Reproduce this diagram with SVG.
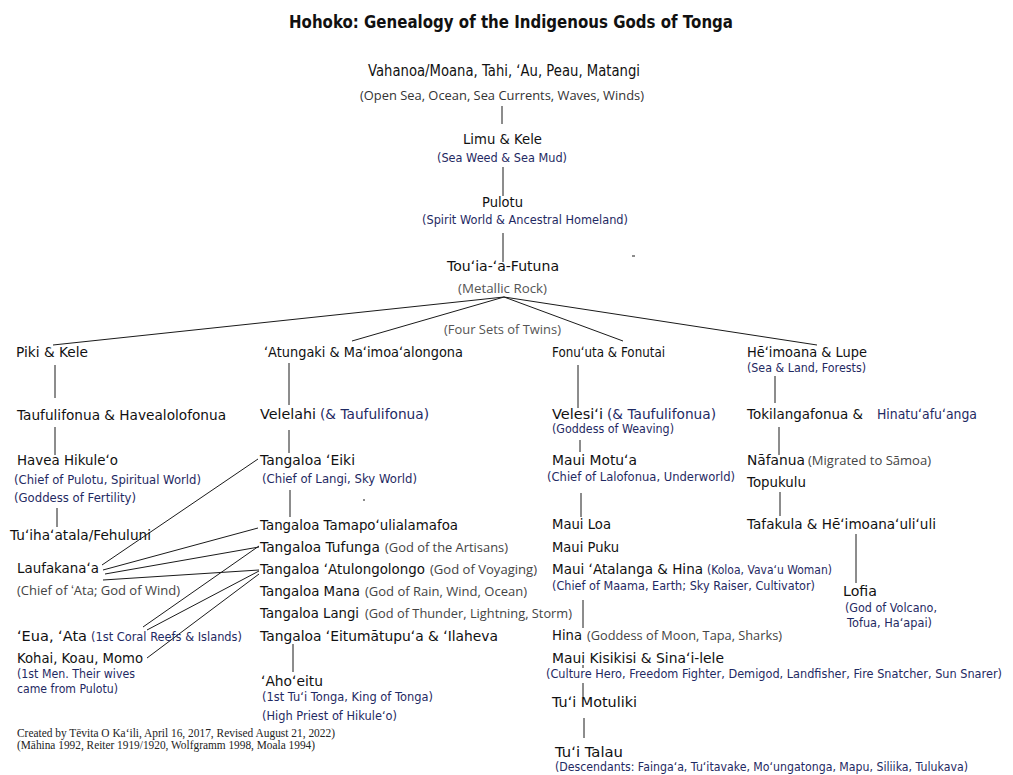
<svg xmlns="http://www.w3.org/2000/svg" width="1013" height="775" viewBox="0 0 1013 775">
<style>
.n{font-family:"DejaVu Sans","Noto Sans",sans-serif;font-size:14px;fill:#111}
.nv{font-family:"DejaVu Sans","Noto Sans",sans-serif;font-size:14px;fill:#1f2a63}
.s{font-family:"DejaVu Sans","Noto Sans",sans-serif;font-size:11.8px;fill:#1f2a63}
.c{font-family:"Open Sans","Liberation Sans",sans-serif;font-size:12.5px;fill:#444}
.f{font-family:"Liberation Serif","Times New Roman",serif;font-size:11.5px;fill:#222}
.title{font-family:"DejaVu Sans","Noto Sans",sans-serif;font-size:18px;font-weight:bold;fill:#111}
.ln{stroke:#1a1a1a;stroke-width:1;fill:none}
</style>
<rect width="1013" height="775" fill="#fff"/>
<g id="title"><text class="title" x="289" y="28" textLength="444" lengthAdjust="spacingAndGlyphs">Hohoko: Genealogy of the Indigenous Gods of Tonga</text></g>

<g id="connectors" class="ln">
<path d="M502,106V124M503,167V196M503,233V262"/>
<path d="M504,297L53,345M504,297L352,341M504,297L623,341M504,297L817,345"/>
<path d="M55,365V398M55,427V455M57,508V527"/>
<path d="M289,363V405M289,430V453M290,490V517M293,644V672"/>
<path d="M578,365V408M580,440V452M581,493V517M583,600V628M583,665V668M583,683V697M584,718V738"/>
<path d="M775,376V403M779,427V455M780,492V516M856,534V583"/>
<path d="M102,565L258,459M103,570L258,528M105,574L259,547M103,580L259,570M143,627L259,546M147,630L259,571M147,658L259,574"/>
<path d="M632,256H635M363,500H365"/>
<text class="c" x="444" y="334" textLength="117" lengthAdjust="spacingAndGlyphs" style="fill:#555;stroke:none">(Four Sets of Twins)</text>
</g>

<g id="vahanoa">
<text class="n" x="368" y="76" style="font-size:15.5px" textLength="272" lengthAdjust="spacingAndGlyphs">Vahanoa/Moana, Tahi, ʻAu, Peau, Matangi</text>
<text class="c" x="360" y="100" style="fill:#333" textLength="284" lengthAdjust="spacingAndGlyphs">(Open Sea, Ocean, Sea Currents, Waves, Winds)</text>
</g>
<g id="limu">
<text class="n" x="463" y="144" textLength="79" lengthAdjust="spacingAndGlyphs">Limu &amp; Kele</text>
<text class="s" x="437" y="162" textLength="130" lengthAdjust="spacingAndGlyphs">(Sea Weed &amp; Sea Mud)</text>
</g>
<g id="pulotu">
<text class="n" x="482" y="207" textLength="41" lengthAdjust="spacingAndGlyphs">Pulotu</text>
<text class="s" x="422" y="224" textLength="206" lengthAdjust="spacingAndGlyphs">(Spirit World &amp; Ancestral Homeland)</text>
</g>
<g id="touia">
<text class="n" x="447" y="271" textLength="112" lengthAdjust="spacingAndGlyphs">Touʻia-ʻa-Futuna</text>
<text class="c" x="458" y="293" style="fill:#555" textLength="89" lengthAdjust="spacingAndGlyphs">(Metallic Rock)</text>
</g>

<g id="piki"><text class="n" x="16" y="357" textLength="72" lengthAdjust="spacingAndGlyphs">Piki &amp; Kele</text></g>
<g id="atungaki"><text class="n" x="264" y="357" textLength="199" lengthAdjust="spacingAndGlyphs">ʻAtungaki &amp;  Maʻimoaʻalongona</text></g>
<g id="fonuuta"><text class="n" x="552" y="357" textLength="113" lengthAdjust="spacingAndGlyphs">Fonuʻuta &amp; Fonutai</text></g>
<g id="heimoana">
<text class="n" x="747" y="357" textLength="120" lengthAdjust="spacingAndGlyphs">Hēʻimoana &amp; Lupe</text>
<text class="s" x="747" y="372" textLength="119" lengthAdjust="spacingAndGlyphs">(Sea &amp; Land, Forests)</text>
</g>

<g id="taufulifonua"><text class="n" x="17" y="420" textLength="209" lengthAdjust="spacingAndGlyphs">Taufulifonua &amp; Havealolofonua</text></g>
<g id="havea">
<text class="n" x="17" y="465" textLength="101" lengthAdjust="spacingAndGlyphs">Havea Hikuleʻo</text>
<text class="s" x="14" y="484" textLength="187" lengthAdjust="spacingAndGlyphs">(Chief of Pulotu, Spiritual World)</text>
<text class="s" x="14" y="502" textLength="122" lengthAdjust="spacingAndGlyphs">(Goddess of Fertility)</text>
</g>
<g id="tuihaatala"><text class="n" x="10" y="540" textLength="141" lengthAdjust="spacingAndGlyphs">Tuʻihaʻatala/Fehuluni</text></g>
<g id="laufakanaa">
<text class="n" x="17" y="573" textLength="82" lengthAdjust="spacingAndGlyphs">Laufakanaʻa</text>
<text class="c" x="17" y="595" textLength="163" lengthAdjust="spacingAndGlyphs">(Chief of ʻAta; God of Wind)</text>
</g>
<g id="eua">
<text class="n" x="17" y="641" textLength="70" lengthAdjust="spacingAndGlyphs">ʻEua, ʻAta</text>
<text class="s" x="91" y="641" textLength="151" lengthAdjust="spacingAndGlyphs">(1st Coral Reefs &amp; Islands)</text>
</g>
<g id="kohai">
<text class="n" x="17" y="663" textLength="126" lengthAdjust="spacingAndGlyphs">Kohai, Koau, Momo</text>
<text class="s" x="17" y="678" textLength="118" lengthAdjust="spacingAndGlyphs">(1st Men. Their wives</text>
<text class="s" x="17" y="693" textLength="101" lengthAdjust="spacingAndGlyphs">came from Pulotu)</text>
</g>

<g id="velelahi">
<text class="n" x="260" y="419" textLength="56" lengthAdjust="spacingAndGlyphs">Velelahi</text>
<text class="nv" x="320" y="419" textLength="109" lengthAdjust="spacingAndGlyphs">(&amp; Taufulifonua)</text>
</g>
<g id="tangaloa-eiki">
<text class="n" x="260" y="465" textLength="95" lengthAdjust="spacingAndGlyphs">Tangaloa ʻEiki</text>
<text class="s" x="262" y="483" textLength="155" lengthAdjust="spacingAndGlyphs">(Chief of Langi, Sky World)</text>
</g>
<g id="tamapoulialamafoa"><text class="n" x="260" y="530" textLength="198" lengthAdjust="spacingAndGlyphs">Tangaloa Tamapoʻulialamafoa</text></g>
<g id="tufunga">
<text class="n" x="260" y="552" textLength="120" lengthAdjust="spacingAndGlyphs">Tangaloa Tufunga</text>
<text class="c" x="385" y="552" textLength="123" lengthAdjust="spacingAndGlyphs">(God of the Artisans)</text>
</g>
<g id="atulongolongo">
<text class="n" x="260" y="574" textLength="165" lengthAdjust="spacingAndGlyphs">Tangaloa ʻAtulongolongo</text>
<text class="c" x="430" y="574" textLength="107" lengthAdjust="spacingAndGlyphs">(God of Voyaging)</text>
</g>
<g id="mana">
<text class="n" x="260" y="596" textLength="100" lengthAdjust="spacingAndGlyphs">Tangaloa Mana</text>
<text class="c" x="365" y="596" textLength="162" lengthAdjust="spacingAndGlyphs">(God of Rain, Wind, Ocean)</text>
</g>
<g id="langi">
<text class="n" x="260" y="618" textLength="99" lengthAdjust="spacingAndGlyphs">Tangaloa Langi</text>
<text class="c" x="365" y="618" textLength="207" lengthAdjust="spacingAndGlyphs">(God of Thunder, Lightning, Storm)</text>
</g>
<g id="eitumatupua"><text class="n" x="260" y="641" textLength="238" lengthAdjust="spacingAndGlyphs">Tangaloa ʻEitumātupuʻa &amp; ʻIlaheva</text></g>
<g id="ahoeitu">
<text class="n" x="261" y="686" textLength="62" lengthAdjust="spacingAndGlyphs">ʻAhoʻeitu</text>
<text class="s" x="262" y="701" textLength="171" lengthAdjust="spacingAndGlyphs">(1st Tuʻi Tonga, King of Tonga)</text>
<text class="s" x="262" y="720" textLength="135" lengthAdjust="spacingAndGlyphs">(High Priest of Hikuleʻo)</text>
</g>

<g id="velesii">
<text class="n" x="552" y="419" textLength="51" lengthAdjust="spacingAndGlyphs">Velesiʻi</text>
<text class="nv" x="607" y="419" textLength="109" lengthAdjust="spacingAndGlyphs">(&amp; Taufulifonua)</text>
<text class="s" x="552" y="433" textLength="122" lengthAdjust="spacingAndGlyphs">(Goddess of Weaving)</text>
</g>
<g id="maui-motua">
<text class="n" x="552" y="465" textLength="85" lengthAdjust="spacingAndGlyphs">Maui Motuʻa</text>
<text class="s" x="547" y="481" textLength="188" lengthAdjust="spacingAndGlyphs">(Chief of Lalofonua, Underworld)</text>
</g>
<g id="maui-loa"><text class="n" x="552" y="529" textLength="59" lengthAdjust="spacingAndGlyphs">Maui Loa</text></g>
<g id="maui-puku"><text class="n" x="552" y="552" textLength="67" lengthAdjust="spacingAndGlyphs">Maui Puku</text></g>
<g id="maui-atalanga">
<text class="n" x="552" y="574" textLength="151" lengthAdjust="spacingAndGlyphs">Maui ʻAtalanga &amp; Hina</text>
<text class="s" x="707" y="574" textLength="125" lengthAdjust="spacingAndGlyphs">(Koloa, Vavaʻu Woman)</text>
<text class="s" x="552" y="590" textLength="263" lengthAdjust="spacingAndGlyphs">(Chief of Maama, Earth; Sky Raiser, Cultivator)</text>
</g>
<g id="hina">
<text class="n" x="552" y="640" textLength="30" lengthAdjust="spacingAndGlyphs">Hina</text>
<text class="c" x="587" y="640" textLength="195" lengthAdjust="spacingAndGlyphs">(Goddess of Moon, Tapa, Sharks)</text>
</g>
<g id="maui-kisikisi">
<text class="n" x="552" y="663" textLength="172" lengthAdjust="spacingAndGlyphs">Maui Kisikisi &amp; Sinaʻi-lele</text>
<text class="s" x="546" y="678" textLength="456" lengthAdjust="spacingAndGlyphs">(Culture Hero, Freedom Fighter, Demigod, Landfisher, Fire Snatcher, Sun Snarer)</text>
</g>
<g id="tui-motuliki"><text class="n" x="552" y="707" textLength="85" lengthAdjust="spacingAndGlyphs">Tuʻi Motuliki</text></g>
<g id="tui-talau">
<text class="n" x="555" y="757" textLength="68" lengthAdjust="spacingAndGlyphs">Tuʻi Talau</text>
<text class="s" x="555" y="771" textLength="413" lengthAdjust="spacingAndGlyphs">(Descendants: Faingaʻa, Tuʻitavake, Moʻungatonga, Mapu, Siliika, Tulukava)</text>
</g>

<g id="tokilangafonua">
<text class="n" x="747" y="419" textLength="116" lengthAdjust="spacingAndGlyphs">Tokilangafonua &amp;</text>
<text class="nv" x="877" y="419" textLength="100" lengthAdjust="spacingAndGlyphs">Hinatuʻafuʻanga</text>
</g>
<g id="nafanua">
<text class="n" x="747" y="465" textLength="58" lengthAdjust="spacingAndGlyphs">Nāfanua</text>
<text class="c" x="808" y="465" textLength="123" lengthAdjust="spacingAndGlyphs">(Migrated to Sāmoa)</text>
</g>
<g id="topukulu"><text class="n" x="747" y="487" textLength="59" lengthAdjust="spacingAndGlyphs">Topukulu</text></g>
<g id="tafakula"><text class="n" x="747" y="529" textLength="189" lengthAdjust="spacingAndGlyphs">Tafakula &amp; Hēʻimoanaʻuliʻuli</text></g>
<g id="lofia">
<text class="n" x="843" y="596" textLength="34" lengthAdjust="spacingAndGlyphs">Lofia</text>
<text class="s" x="845" y="612" textLength="92" lengthAdjust="spacingAndGlyphs">(God of Volcano,</text>
<text class="s" x="847" y="627" textLength="85" lengthAdjust="spacingAndGlyphs">Tofua, Haʻapai)</text>
</g>

<g id="credits">
<text class="f" x="17" y="737" textLength="318" lengthAdjust="spacingAndGlyphs">Created by Tēvita O Kaʻili, April 16, 2017, Revised August 21, 2022)</text>
<text class="f" x="17" y="749" textLength="298" lengthAdjust="spacingAndGlyphs">(Māhina 1992, Reiter 1919/1920, Wolfgramm 1998, Moala 1994)</text>
</g>
</svg>
